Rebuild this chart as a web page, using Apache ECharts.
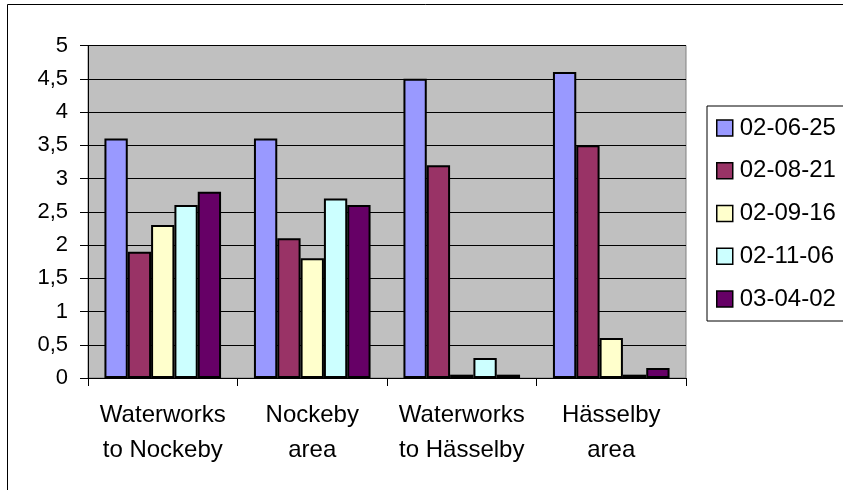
<!DOCTYPE html>
<html>
<head>
<meta charset="utf-8">
<script src="https://cdn.jsdelivr.net/npm/echarts@6/dist/echarts.min.js"></script>
<style>
  html, body { margin: 0; padding: 0; background: #ffffff; }
  #chart { width: 843px; height: 490px; }
</style>
</head>
<body>
<div id="chart"></div>
<script>
// Sampling sites along the distribution network
const sites = ['Waterworks\nto Nockeby', 'Nockeby\narea', 'Waterworks\nto Hässelby', 'Hässelby\narea'];

// Sampling dates (series names)
const dates = ['02-06-25', '02-08-21', '02-09-16', '02-11-06', '03-04-02'];

// Measured values per sampling date, one value per site
const v020625 = [3.6, 3.6, 4.5, 4.6];
const v020821 = [1.9, 2.1, 3.2, 3.5];
const v020916 = [2.3, 1.8, 0.05, 0.6];
const v021106 = [2.6, 2.7, 0.3, 0.05];
const v030402 = [2.8, 2.6, 0.05, 0.15];

const seriesValues = [v020625, v020821, v020916, v021106, v030402];
const seriesColors = ['#9999FF', '#993366', '#FFFFCC', '#CCFFFF', '#660066'];

// Value axis range and step
const yMin = 0, yMax = 5, yStep = 0.5;

const FONT = '"Liberation Sans", Arial, sans-serif';

const chart = echarts.init(document.getElementById('chart'), null, { renderer: 'canvas' });

chart.setOption({
  animation: false,
  backgroundColor: '#ffffff',
  textStyle: { fontFamily: FONT, color: '#000' },
  graphic: [{
    type: 'rect',
    silent: true,
    z: -10,
    shape: { x: 7.5, y: 4.5, width: 1000, height: 1000 },
    style: { fill: 'none', stroke: '#000', lineWidth: 1 }
  }],
  grid: {
    left: 88, right: 157, top: 45.5, bottom: 112,
    show: true,
    backgroundColor: '#C0C0C0',
    borderColor: '#808080',
    borderWidth: 1
  },
  legend: {
    orient: 'vertical',
    left: 707, top: 106,
    padding: [10, 40, 10, 9],
    itemWidth: 16, itemHeight: 16,
    itemGap: 18.75,
    backgroundColor: '#ffffff',
    borderColor: '#000',
    borderWidth: 1,
    textStyle: { fontFamily: FONT, fontSize: 24, color: '#000', padding: [0, 0, 0, 2] },
    itemStyle: { borderColor: '#000', borderWidth: 1.5 },
    icon: 'rect',
    data: dates
  },
  xAxis: {
    type: 'category',
    data: sites,
    axisLine: { show: true, lineStyle: { color: '#000', width: 1 } },
    axisTick: { show: true, length: 8, inside: false, lineStyle: { color: '#000' } },
    axisLabel: {
      fontFamily: FONT, fontSize: 24, color: '#000',
      lineHeight: 35, margin: 20, interval: 0
    },
    splitLine: { show: false }
  },
  yAxis: {
    type: 'value',
    min: yMin, max: yMax, interval: yStep,
    axisLine: { show: true, lineStyle: { color: '#000', width: 1 } },
    axisTick: { show: true, length: 8, lineStyle: { color: '#000' } },
    axisLabel: {
      fontFamily: FONT, fontSize: 22, color: '#000', margin: 20,
      formatter: v => String(v).replace('.', ',')
    },
    splitLine: { show: true, lineStyle: { color: '#000', width: 1 } }
  },
  series: dates.map((d, i) => ({
    name: d,
    type: 'bar',
    data: seriesValues[i],
    barGap: '0%',
    barCategoryGap: '22%',
    itemStyle: { color: seriesColors[i], borderColor: '#000', borderWidth: 2 }
  }))
});
</script>
</body>
</html>
